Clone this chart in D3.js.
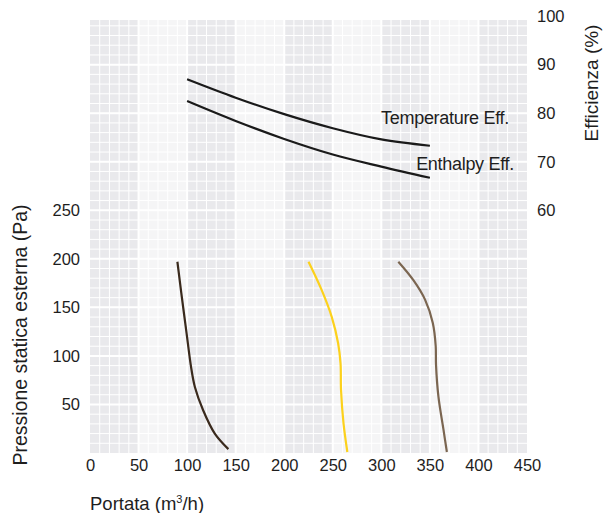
<!DOCTYPE html>
<html>
<head>
<meta charset="utf-8">
<script src="https://cdn.jsdelivr.net/npm/d3@7"></script>
<style>
  body { margin: 0; background: #fff; }
  svg { display: block; font-family: "Liberation Sans", Arial, sans-serif; }
</style>
</head>
<body>
<svg id="chart" width="603" height="513"></svg>
<script>
// 軸の目盛り
const flowTicks = [0, 50, 100, 150, 200, 250, 300, 350, 400, 450];
const pressureTicks = [50, 100, 150, 200, 250];
const effTicks = [60, 70, 80, 90, 100];

// ファン曲線 [portata, pressione]
const fanDark = [[90, 197], [94, 165], [99.5, 123], [104, 89], [108, 68], [116.5, 44], [128.5, 20], [142.5, 4]];
const fanYellow = [[225, 197], [238.5, 168], [249, 140], [255.5, 113], [258, 92], [258.5, 65], [261, 31], [265, 1]];
const fanBrown = [[317.5, 197], [333, 178], [345, 158], [353, 134], [356, 110], [356.3, 91], [358.8, 58], [364, 24], [367.5, 1]];

// 効率曲線 [portata, efficienza]
const tempEff = [[100, 87.0], [150, 83.2], [200, 79.8], [250, 76.9], [300, 74.6], [350, 73.3]];
const enthEff = [[100, 82.5], [150, 78.4], [200, 74.7], [250, 71.5], [300, 69.0], [350, 66.7]];

const svg = d3.select("#chart");
const mLeft = 90, mRight = 527, mTop = 20, mBottom = 453;

const x = d3.scaleLinear().domain([0, 450]).range([mLeft, mRight]);
const y = d3.scaleLinear().domain([0, 446]).range([mBottom, mTop]);
// 60% = 250 Pa, 100% = 450 Pa
const yEff = d3.scaleLinear().domain([60, 100]).range([y(250), y(450)]);

// 背景の帯
const bands = d3.range(0, 450, 50);
svg.append("g").selectAll("rect")
  .data(bands)
  .join("rect")
  .attr("x", d => x(d))
  .attr("y", mTop)
  .attr("width", d => x(d + 50) - x(d))
  .attr("height", mBottom - mTop)
  .attr("fill", (d, i) => i % 2 === 0 ? "#e9e9ec" : "#f5f5f6");

// グリッド
const grid = svg.append("g").attr("stroke", "#fff");
grid.append("g").selectAll("line")
  .data(d3.range(10, 450, 10))
  .join("line")
  .attr("x1", d => x(d)).attr("x2", d => x(d))
  .attr("y1", mTop).attr("y2", mBottom)
  .attr("stroke-width", d => d % 50 === 0 ? 2 : 1);
grid.append("g").selectAll("line")
  .data(d3.range(10, 446, 10))
  .join("line")
  .attr("y1", d => y(d)).attr("y2", d => y(d))
  .attr("x1", mLeft).attr("x2", mRight)
  .attr("stroke-width", d => d % 50 === 0 ? 2 : 1);

// 軸
const tickFont = "16.5px";
const styleTicks = g => g.selectAll("text")
  .attr("font-size", tickFont).attr("fill", "#1e1e1e").attr("font-family", "inherit");

svg.append("g")
  .attr("transform", `translate(0,${mBottom})`)
  .call(d3.axisBottom(x).tickValues(flowTicks).tickSize(0).tickPadding(6))
  .call(g => g.select(".domain").remove())
  .call(styleTicks);

svg.append("g")
  .attr("transform", `translate(${mLeft},0)`)
  .call(d3.axisLeft(y).tickValues(pressureTicks).tickSize(0).tickPadding(10))
  .call(g => g.select(".domain").remove())
  .call(styleTicks);

svg.append("g")
  .attr("transform", `translate(${mRight},0)`)
  .call(d3.axisRight(yEff).tickValues(effTicks).tickSize(0).tickPadding(10))
  .call(g => g.select(".domain").remove())
  .call(styleTicks);

// 軸ラベル
const xl = svg.append("text")
  .attr("x", mLeft)
  .attr("y", 510)
  .attr("font-size", "18.5px")
  .attr("fill", "#1e1e1e");
xl.append("tspan").text("Portata (m");
xl.append("tspan").attr("font-size", "11px").attr("dy", -7).text("3");
xl.append("tspan").attr("dy", 7).text("/h)");

svg.append("text")
  .attr("transform", `translate(27,${335}) rotate(-90)`)
  .attr("text-anchor", "middle")
  .attr("font-size", "19.5px")
  .attr("fill", "#1e1e1e")
  .text("Pressione statica esterna (Pa)");

svg.append("text")
  .attr("transform", `translate(598,${83}) rotate(-90)`)
  .attr("text-anchor", "middle")
  .attr("font-size", "19px")
  .attr("fill", "#1e1e1e")
  .text("Efficienza (%)");

// 曲線
const fanLine = d3.line().x(d => x(d[0])).y(d => y(d[1])).curve(d3.curveCatmullRom);
const effLine = d3.line().x(d => x(d[0])).y(d => yEff(d[1])).curve(d3.curveCatmullRom);

const fans = [
  { data: fanDark, color: "#3a2a1d" },
  { data: fanYellow, color: "#fcd11c" },
  { data: fanBrown, color: "#7b6651" }
];
svg.append("g").selectAll("path")
  .data(fans)
  .join("path")
  .attr("d", d => fanLine(d.data))
  .attr("fill", "none")
  .attr("stroke", d => d.color)
  .attr("stroke-width", 2.2);

svg.append("g").selectAll("path")
  .data([tempEff, enthEff])
  .join("path")
  .attr("d", d => effLine(d))
  .attr("fill", "none")
  .attr("stroke", "#1a1a1a")
  .attr("stroke-width", 2.2);

svg.append("text")
  .attr("x", 509).attr("y", 124)
  .attr("text-anchor", "end")
  .attr("font-size", "18px")
  .attr("letter-spacing", "-0.3px")
  .attr("fill", "#1e1e1e")
  .text("Temperature Eff.");

svg.append("text")
  .attr("x", 514).attr("y", 170)
  .attr("text-anchor", "end")
  .attr("font-size", "18px")
  .attr("letter-spacing", "-0.3px")
  .attr("fill", "#1e1e1e")
  .text("Enthalpy Eff.");
</script>
</body>
</html>
